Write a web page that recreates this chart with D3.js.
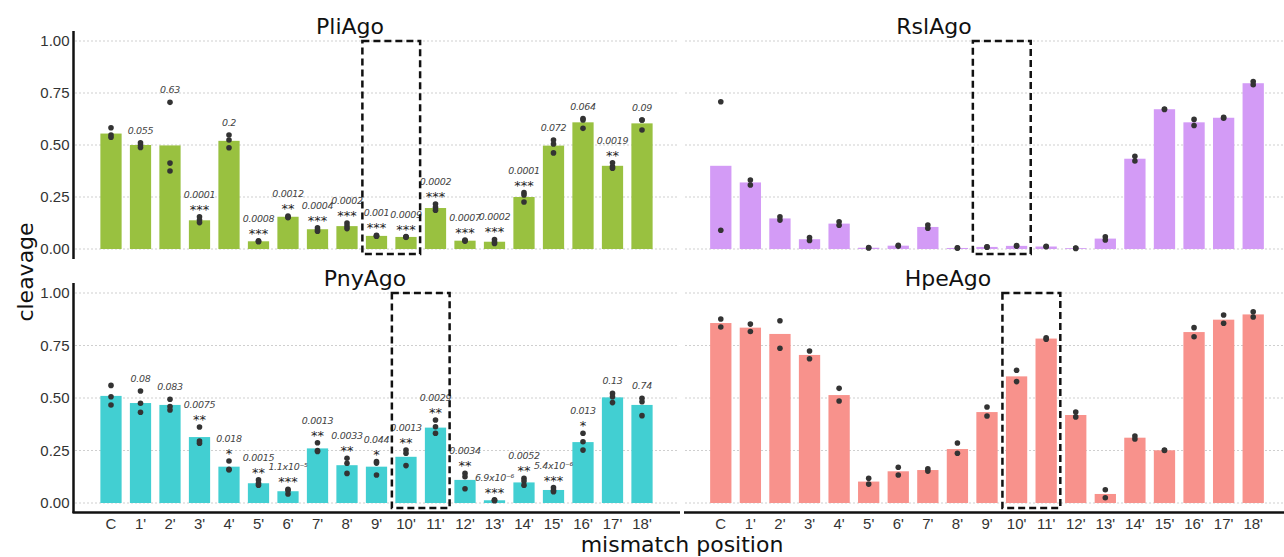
<!DOCTYPE html>
<html>
<head>
<meta charset="utf-8">
<script src="https://cdn.jsdelivr.net/npm/d3@7"></script>
<style>
  body { margin: 0; background: #fff; }
  svg { display: block; }
</style>
</head>
<body>
<svg id="chart"></svg>
<script>
// CATEGORIES AND TICKS
const positions = ["C", "1'", "2'", "3'", "4'", "5'", "6'", "7'", "8'", "9'", "10'", "11'", "12'", "13'", "14'", "15'", "16'", "17'", "18'"]
const yTicks = [0, 0.25, 0.5, 0.75, 1]
const yTickLabels = ["0.00", "0.25", "0.50", "0.75", "1.00"]

// PliAgo
const pliBars = [0.555, 0.50, 0.498, 0.138, 0.52, 0.037, 0.155, 0.095, 0.11, 0.063, 0.058, 0.197, 0.04, 0.035, 0.25, 0.497, 0.609, 0.40, 0.604]
const pliDots = [[0.583, 0.548, 0.537], [0.511, 0.50, 0.488], [0.705, 0.413, 0.375], [0.155, 0.139, 0.127], [0.548, 0.524, 0.487],
  [0.04, 0.037, 0.035], [0.159, 0.153, 0.151], [0.102, 0.092, 0.085], [0.125, 0.111, 0.098], [0.066, 0.063, 0.061],
  [0.06, 0.058, 0.056], [0.216, 0.2, 0.186], [0.043, 0.04, 0.038], [0.046, 0.034, 0.027], [0.271, 0.26, 0.226],
  [0.524, 0.505, 0.462], [0.627, 0.62, 0.58], [0.415, 0.396, 0.388], [0.62, 0.62, 0.572]]
const pliPvals = ["", "0.055", "0.63", "0.0001", "0.2", "0.0008", "0.0012", "0.0004", "0.0002", "0.001", "0.0009", "0.0002", "0.0007", "0.0002", "0.0001", "0.072", "0.064", "0.0019", "0.09"]
const pliStars = ["", "", "", "***", "", "***", "**", "***", "***", "***", "***", "***", "***", "***", "***", "", "", "**", ""]

// RslAgo
const rslBars = [0.40, 0.32, 0.147, 0.047, 0.122, 0.006, 0.016, 0.106, 0.005, 0.01, 0.015, 0.012, 0.004, 0.05, 0.434, 0.672, 0.609, 0.631, 0.797]
const rslDots = [[0.708, 0.09], [0.332, 0.308], [0.155, 0.139], [0.055, 0.041], [0.131, 0.114],
  [0.007, 0.005], [0.018, 0.014], [0.115, 0.1], [0.006, 0.004], [0.011, 0.009],
  [0.016, 0.014], [0.013, 0.011], [0.005, 0.003], [0.059, 0.043], [0.446, 0.423],
  [0.673, 0.671], [0.623, 0.594], [0.633, 0.629], [0.805, 0.79]]

// PnyAgo
const pnyBars = [0.51, 0.476, 0.467, 0.314, 0.173, 0.094, 0.056, 0.26, 0.18, 0.173, 0.22, 0.359, 0.11, 0.013, 0.098, 0.062, 0.29, 0.503, 0.467]
const pnyDots = [[0.56, 0.506, 0.467], [0.533, 0.475, 0.432], [0.494, 0.459, 0.443], [0.362, 0.295, 0.285], [0.2, 0.16, 0.158],
  [0.11, 0.094, 0.085], [0.065, 0.06, 0.043], [0.287, 0.25, 0.245], [0.213, 0.189, 0.141], [0.197, 0.19, 0.133],
  [0.252, 0.237, 0.178], [0.395, 0.363, 0.332], [0.141, 0.125, 0.068], [0.015, 0.013, 0.011], [0.118, 0.105, 0.085],
  [0.073, 0.06, 0.054], [0.332, 0.292, 0.252], [0.522, 0.506, 0.478], [0.499, 0.482, 0.416]]
const pnyPvals = ["", "0.08", "0.083", "0.0075", "0.018", "0.0015", "1.1x10⁻⁵", "0.0013", "0.0033", "0.044", "0.0013", "0.0029", "0.0034", "6.9x10⁻⁶", "0.0052", "5.4x10⁻⁶", "0.013", "0.13", "0.74"]
const pnyStars = ["", "", "", "**", "*", "**", "***", "**", "**", "*", "**", "**", "**", "***", "**", "***", "*", "", ""]

// HpeAgo
const hpeBars = [0.857, 0.835, 0.805, 0.705, 0.514, 0.102, 0.151, 0.157, 0.257, 0.433, 0.603, 0.783, 0.419, 0.043, 0.311, 0.251, 0.814, 0.873, 0.898]
const hpeDots = [[0.876, 0.838], [0.852, 0.817], [0.868, 0.737], [0.724, 0.687], [0.546, 0.486],
  [0.118, 0.09], [0.17, 0.133], [0.163, 0.152], [0.286, 0.237], [0.457, 0.414],
  [0.632, 0.578], [0.787, 0.78], [0.433, 0.41], [0.063, 0.025], [0.319, 0.305],
  [0.252, 0.25], [0.835, 0.792], [0.895, 0.856], [0.911, 0.886]]

const svgWidth = 1284
const svgHeight = 557

let svg = d3.select('#chart')
    .attr('width', svgWidth)
    .attr('height', svgHeight)
    .attr('font-family', 'DejaVu Sans, sans-serif')

// PANEL SETUP
let panels = [
    {title: "PliAgo", titleX: 350, bars: pliBars, dots: pliDots, pvals: pliPvals, stars: pliStars, colour: '#99c140',
     xr: [96.25, 656.75], yr: [249, 41], grid: [75, 678], box: ["9'", "10'"], left: true, bottom: false},
    {title: "RslAgo", titleX: 934, bars: rslBars, dots: rslDots, pvals: null, stars: null, colour: '#d39bf6',
     xr: [706, 1268], yr: [249, 41], grid: [685, 1284], box: ["9'", "10'"], left: false, bottom: false},
    {title: "PnyAgo", titleX: 365, bars: pnyBars, dots: pnyDots, pvals: pnyPvals, stars: pnyStars, colour: '#42cfd2',
     xr: [96.25, 656.75], yr: [503, 293], grid: [75, 678], box: ["10'", "11'"], left: true, bottom: true},
    {title: "HpeAgo", titleX: 948, bars: hpeBars, dots: hpeDots, pvals: null, stars: null, colour: '#f8928c',
     xr: [706, 1268], yr: [503, 293], grid: [685, 1284], box: ["10'", "11'"], left: false, bottom: true}
]

panels.forEach(function(p) {
    let x = d3.scaleBand()
        .domain(positions)
        .range(p.xr)
        .paddingInner(0.28)
        .paddingOuter(0.14)
    let y = d3.scaleLinear()
        .domain([0, 1])
        .range(p.yr)

    let g = svg.append('g')

    // GRID LINES
    g.append('g')
        .selectAll('line')
        .data(yTicks)
        .join('line')
            .attr('x1', p.grid[0])
            .attr('x2', p.grid[1])
            .attr('y1', d => y(d))
            .attr('y2', d => y(d))
            .attr('stroke', '#cfcfcf')
            .attr('stroke-width', 1)
            .attr('stroke-dasharray', '2,2')

    // Y AXIS (left panels only)
    if (p.left) {
        let yAxis = g.append('g')
            .attr('transform', 'translate(73.5,0)')
            .call(d3.axisLeft(y).tickValues(yTicks).tickFormat((d, i) => yTickLabels[i]).tickSize(0).tickPadding(4))
        yAxis.select('.domain').remove()
        yAxis.selectAll('text')
            .attr('font-family', 'Liberation Sans, Arial, sans-serif')
            .attr('font-size', 15)
            .attr('fill', '#333')
        g.append('line')
            .attr('x1', 73.5).attr('x2', 73.5)
            .attr('y1', y(1) - 10).attr('y2', y(0) + 10)
            .attr('stroke', '#111')
            .attr('stroke-width', 2.5)
    }

    // X AXIS (bottom panels only)
    if (p.bottom) {
        let xAxis = g.append('g')
            .attr('transform', `translate(0, 512.5)`)
            .call(d3.axisBottom(x).tickSize(0).tickPadding(6))
        xAxis.select('.domain').remove()
        xAxis.selectAll('text')
            .attr('font-family', 'Liberation Sans, Arial, sans-serif')
            .attr('font-size', 15)
            .attr('fill', '#333')
        g.append('line')
            .attr('x1', p.left ? 72.5 : 684).attr('x2', p.left ? 680 : 1284)
            .attr('y1', 512.5).attr('y2', 512.5)
            .attr('stroke', '#111')
            .attr('stroke-width', 2.5)
    }

    // BARS
    g.append('g')
        .selectAll('rect')
        .data(p.bars)
        .join('rect')
            .attr('x', (d, i) => x(positions[i]))
            .attr('y', d => y(d))
            .attr('width', x.bandwidth())
            .attr('height', d => y(0) - y(d))
            .attr('fill', p.colour)

    // DOTS
    let dotData = []
    p.dots.forEach(function(vals, i) {
        vals.forEach(v => dotData.push({key: positions[i], value: v}))
    })
    g.append('g')
        .selectAll('circle')
        .data(dotData)
        .join('circle')
            .attr('cx', d => x(d.key) + x.bandwidth() / 2)
            .attr('cy', d => y(d.value))
            .attr('r', 2.8)
            .attr('fill', '#333')

    // SIGNIFICANCE LABELS
    if (p.pvals) {
        positions.forEach(function(key, i) {
            let top = y(Math.max(p.bars[i], d3.max(p.dots[i])))
            let cx = x(key) + x.bandwidth() / 2
            let pY = top - 9
            if (p.stars[i] !== "") {
                g.append('text')
                    .attr('x', cx)
                    .attr('y', top - 3)
                    .attr('text-anchor', 'middle')
                    .attr('font-size', 13)
                    .attr('fill', '#222')
                    .text(p.stars[i])
                pY = top - 19
            }
            if (p.pvals[i] !== "") {
                g.append('text')
                    .attr('x', cx)
                    .attr('y', pY)
                    .attr('text-anchor', 'middle')
                    .attr('font-size', 9.5)
                    .attr('font-style', 'italic')
                    .attr('letter-spacing', -0.3)
                    .attr('fill', '#444')
                    .text(p.pvals[i])
            }
        })
    }

    // DASHED BOX
    let bx0 = x(p.box[0]) - 3.5
    let bx1 = x(p.box[1]) + x.bandwidth() + 3.5
    g.append('rect')
        .attr('x', bx0)
        .attr('y', y(1))
        .attr('width', bx1 - bx0)
        .attr('height', y(0) + 5 - y(1))
        .attr('fill', 'none')
        .attr('stroke', '#111')
        .attr('stroke-width', 2.5)
        .attr('stroke-dasharray', '7,4')

    // PANEL TITLE
    g.append('text')
        .attr('x', p.titleX)
        .attr('y', p.yr[1] - 7)
        .attr('text-anchor', 'middle')
        .attr('font-size', 22)
        .attr('fill', '#111')
        .text(p.title)
})

// AXIS TITLES
svg.append('text')
    .attr('x', 682)
    .attr('y', 552)
    .attr('text-anchor', 'middle')
    .attr('font-size', 22)
    .attr('fill', '#111')
    .text("mismatch position")

svg.append('text')
    .attr('transform', 'translate(33, 272) rotate(-90)')
    .attr('text-anchor', 'middle')
    .attr('font-size', 22)
    .attr('fill', '#111')
    .text("cleavage")
</script>
</body>
</html>
